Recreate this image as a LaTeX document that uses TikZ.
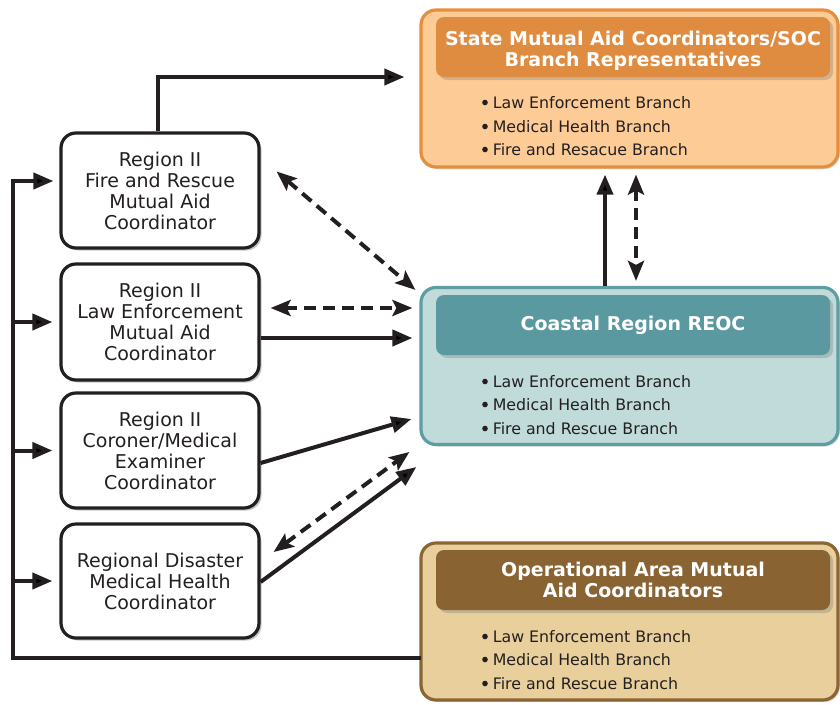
\documentclass[tikz,border=0pt]{standalone}
\usepackage{fontspec}
\setmainfont{DejaVu Sans}
\usetikzlibrary{arrows.meta,calc,shadows}
\definecolor{txt}{HTML}{231F20}
\definecolor{stfill}{HTML}{FDCB96}
\definecolor{stline}{HTML}{E58F3D}
\definecolor{sthead}{HTML}{DF8C40}
\definecolor{refill}{HTML}{C1DADA}
\definecolor{reline}{HTML}{5E9DA2}
\definecolor{rehead}{HTML}{5A99A0}
\definecolor{opfill}{HTML}{E8CF9C}
\definecolor{opline}{HTML}{8B6534}
\definecolor{ophead}{HTML}{8A6333}
\tikzset{
  lbox/.style={draw=txt, line width=3.2pt, fill=white, rounded corners=15pt,
    minimum width=198pt, align=center, text=txt,
    font=\fontsize{19}{21}\selectfont,
    drop shadow={shadow xshift=2.5pt, shadow yshift=-2.5pt, opacity=0.45}},
  obox/.style={line width=3.2pt, rounded corners=15pt, minimum width=417pt, minimum height=157pt,
    drop shadow={shadow xshift=2pt, shadow yshift=-2pt, opacity=0.3}},
  hbox/.style={rounded corners=8pt, minimum width=394pt, minimum height=60pt, text=white,
    align=center, font=\bfseries\fontsize{19}{21}\selectfont,
    drop shadow={shadow xshift=3pt, shadow yshift=-3pt, opacity=0.35}},
  htext/.style={text=white, align=center, inner sep=0pt, font=\bfseries\fontsize{19}{21.5}\selectfont},
  item/.style={anchor=base west, text=txt, inner sep=0pt, font=\fontsize{15.8}{18}\selectfont},
  arr/.style={draw=txt, line width=4pt, -{Triangle[length=20pt,width=16pt]}},
  darr/.style={draw=txt, line width=4pt, dash pattern=on 12pt off 7pt,
    {Stealth[length=20pt,width=16pt,inset=4pt]}-{Stealth[length=20pt,width=16pt,inset=4pt]}}
}
\newcommand{\bul}{\raisebox{0.17em}{\tikz\fill[txt] (0,0) circle (2.8pt);}\kern5pt}
\begin{document}
\begin{tikzpicture}[x=1pt,y=-1pt]
\useasboundingbox (0,0) rectangle (840,704);
% left boxes
\node[lbox, minimum height=115pt] (b1) at (160,190.5) {Region II\\Fire and Rescue\\Mutual Aid\\Coordinator};
\node[lbox, minimum height=116pt] (b2) at (160,322) {Region II\\Law Enforcement\\Mutual Aid\\Coordinator};
\node[lbox, minimum height=115pt] (b3) at (160,450.5) {Region II\\Coroner/Medical\\Examiner\\Coordinator};
\node[lbox, minimum height=114pt] (b4) at (160,581) {Regional Disaster\\Medical Health\\Coordinator};
% right boxes
\node[obox, draw=stline, fill=stfill] (state) at (629.5,88.5) {};
\node[hbox, fill=sthead] (sh) at (633,47) {};
\node[htext] (sht) at (633,51) {State Mutual Aid Coordinators/SOC\\Branch Representatives};
\node[item] (s1) at (482,108) {\bul Law Enforcement Branch};
\node[item] (s2) at (482,132) {\bul Medical Health Branch};
\node[item] (s3) at (482,155) {\bul Fire and Resacue Branch};
\node[obox, draw=reline, fill=refill] (reoc) at (629.5,366) {};
\node[hbox, fill=rehead] (rh) at (633,325) {Coastal Region REOC};
\node[item] (r1) at (482,387) {\bul Law Enforcement Branch};
\node[item] (r2) at (482,410) {\bul Medical Health Branch};
\node[item] (r3) at (482,434) {\bul Fire and Rescue Branch};
\node[obox, draw=opline, fill=opfill] (op) at (629.5,621.5) {};
\node[hbox, fill=ophead] (oh) at (633,580) {Operational Area Mutual\\Aid Coordinators};
\node[item] (o1) at (482,642) {\bul Law Enforcement Branch};
\node[item] (o2) at (482,665) {\bul Medical Health Branch};
\node[item] (o3) at (482,689) {\bul Fire and Rescue Branch};
% spine
\coordinate (st) at (13,181);
\coordinate (sb) at (13,658);
\draw[arr, shorten >=6pt] ($(op.west)+(1.5,36.5)$) -| (st) -- (st -| b1.west);
\draw[arr, shorten >=7pt] (sb |- b2.west) -- (b2.west);
\draw[arr, shorten >=7pt] (sb |- b3.west) -- (b3.west);
\draw[arr, shorten >=7pt] (sb |- b4.west) -- (b4.west);
% top arrow
\draw[arr] ($(b1.north)+(-2,0)$) |- ($(state.west)+(-15,-11.5)$);
% left to REOC
\draw[darr] ($(b1.east)+(16,-19)$) -- ($(reoc.north west)+(-4,4)$);
\draw[darr] ($(b2.east)+(10,-14)$) -- ($(reoc.west)+(-7,-58)$);
\draw[arr] ($(b2.east)+(0,16)$) -- ($(reoc.west)+(-7,-28)$);
\draw[arr] ($(b3.east)+(0,12.5)$) -- ($(reoc.west)+(-8,53)$);
\draw[darr] ($(b4.east)+(13,-29)$) -- ($(reoc.west)+(-10,86)$);
\draw[arr] ($(b4.east)+(0,1)$) -- ($(reoc.west)+(-3,101)$);
% vertical
\draw[arr] ($(reoc.north)+(-24.5,0)$) -- ($(state.south)+(-24.5,6)$);
\draw[darr] ($(state.south)+(6.5,6)$) -- ($(reoc.north)+(6.5,-5)$);
\end{tikzpicture}
\end{document}
